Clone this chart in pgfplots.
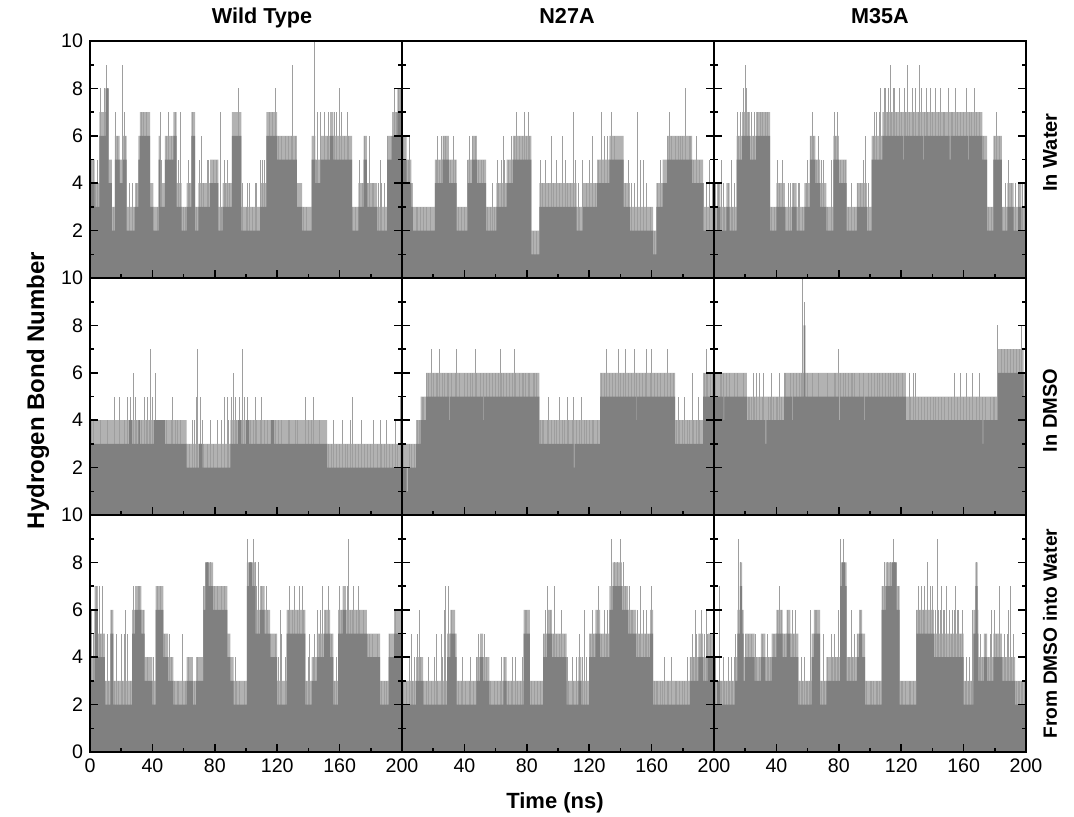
\documentclass[border=0pt]{standalone}
\usepackage{pgfplots}
\pgfplotsset{compat=1.18}
\usepgfplotslibrary{groupplots}
\usetikzlibrary{calc}
\usepackage{fontspec}
\setmainfont{Liberation Sans}
\definecolor{barfill}{RGB}{128,128,128}
\definecolor{hatchcol}{RGB}{178,178,178}
\definecolor{spikecol}{RGB}{158,158,158}
\pgfplotsset{
  panel/.style={width=156pt,height=118.5pt,scale only axis,
    xmin=0,xmax=200,ymin=0,ymax=10,
    xtick={0,40,...,200}, ytick={0,2,...,10},
    minor x tick num=1, minor y tick num=1,
    tick align=inside, xtick pos=left, ytick pos=both,
    major tick length=4pt, minor tick length=2pt,
    axis line style={line width=0.8pt},
    every tick/.style={black,line width=0.8pt},
    xticklabels={}, yticklabels={},
    axis on top,
    /pgf/number format/assume math mode=true,
    ticklabel style={font=\fontsize{9.8}{11}\selectfont},
    title style={font=\fontsize{10.8}{12}\selectfont\bfseries, at={(0.5,1)}, anchor=base, yshift=3pt},
  },
  env/.style={const plot, fill=barfill, draw=none},
  hat/.style={const plot, fill=hatchcol, draw=none},
  spk/.style={ycomb, draw=spikecol, line width=0.5pt, mark=none},
}
\begin{document}
\begin{tikzpicture}
\begin{groupplot}[group style={group size=3 by 3, horizontal sep=0pt, vertical sep=0pt}, panel]
% ---------- Row 1: In Water ----------
\nextgroupplot[title={Wild Type}, title style={xshift=8pt}, yticklabels={,2,4,6,8,10}]
\addplot[hat] coordinates {(0,5)(3,4)(6,7)(10,8)(12,5)(14,3)(16,6)(19,5)(21,6)(23.5,3)(29,4)(31,6)(32,7)(38.5,4)(40.6,3)(44,6)(45,4)(48,6)(53.5,7)(55.6,4)(58.8,3)(62,4)(65,7)(67.4,3)(69.5,4)(77,5)(82.3,3)(85,4)(91,7)(97,3)(109,4)(113,7)(120,6)(132.6,4)(136,3)(142,6)(144.4,5)(147.6,6)(154,7)(156,6)(168,3)(172,4)(175.4,6)(177.5,4)(184,3)(190.4,6)(193.6,7)(197,8)(200,8)} \closedcycle;
\addplot[spk] coordinates {(1,5)(2,5)(3.5,4)(5,5)(6.5,8)(7.5,6)(9,8)(10.5,9)(11,8)(13,4)(15,3)(16.5,7)(17.5,6)(19,5)(20,4)(21,9)(22,7)(22.8,6)(25.5,4)(27,4)(28.5,3)(30,4)(31.5,5)(33,7)(34.5,7)(36.5,7)(39,3)(43,3)(45,7)(46,5)(49,6)(50,7)(52,6)(53,5)(55,7)(57,5)(58,7)(60,3)(61,3)(63,5)(64,4)(66,7)(68,3)(70,5)(71.5,6)(73,4)(75,5)(76,5)(79,5)(81,5)(83.5,7)(84,3)(86,5)(87,4)(88,5)(89.5,4)(93,6)(95,7)(95.5,8)(98,4)(100,3)(101,4)(102.5,4)(104,3)(106,4)(107,4)(109,5)(110.5,5)(112,5)(115,7)(117,7)(119,8)(121,6)(123,6)(125,6)(127,6)(129,6)(130,9)(131.5,6)(133,3)(135,3)(137,3)(139,3)(143.8,10)(145,5)(146,7)(148,7)(150,7)(152,6)(153,7)(155,6)(157,7)(158,7)(160,8)(161,7)(163,6)(165,7)(166,6)(168,3)(170,3)(173,5)(174.5,4)(176,6)(178,4)(179,6)(181,4)(182,4)(185,4)(186,5)(187,4)(189,4)(191,6)(193,6)(195,8)(196.5,7)(198,8)(199,8)};
\addplot[env] coordinates {(0,4)(3,3)(6,6)(10,8)(12,4)(14,2)(16,5)(19,4)(21,5)(23.5,2)(29,3)(31,5)(32,6)(38.5,3)(40.6,2)(44,5)(45,3)(48,5)(53.5,6)(55.6,3)(58.8,2)(62,3)(65,6)(67.4,2)(69.5,3)(77,4)(82.3,2)(85,3)(91,6)(97,2)(109,3)(113,6)(120,5)(132.6,3)(136,2)(142,5)(144.4,4)(147.6,5)(154,6)(156,5)(168,2)(172,3)(175.4,5)(177.5,3)(184,2)(190.4,5)(193.6,6)(197,7)(200,7)} \closedcycle;
\nextgroupplot[title={N27A}, title style={xshift=4.5pt}]
\addplot[hat] coordinates {(0,6)(3,5)(6,4)(7,3)(21,5)(26,6)(30,5)(35,3)(42,5)(45,6)(48,5)(54,3)(60.5,4)(67,5)(71,6)(83,2)(88,4)(112,3)(116,4)(125,5)(133,6)(142,4)(146,3)(161,2)(163,4)(167,5)(170,6)(186,5)(193,3)(200,3)} \closedcycle;
\addplot[spk] coordinates {(1,6)(2,5)(4,5)(5,6)(7,3)(9,3)(10,3)(12,3)(14,3)(16,3)(18,3)(22,5)(23,6)(24,5)(25,6)(26.5,6)(28,6)(29,5)(31,5)(33,6)(34,5)(36,3)(38,3)(40,3)(42,5)(43,6)(45,6)(46,5)(47,6)(49,5)(51,5)(52,5)(55,3)(57,3)(58,4)(59,3)(61,5)(62,4)(64,5)(65,6)(66,5)(68,5)(70,6)(72,6)(73.5,7)(75,6)(77,6)(78.5,7)(80,6)(81,7)(82,6)(84,2)(86,2)(89,5)(90,4)(92,5)(94,4)(96,6)(97,4)(99,5)(101,4)(103,6)(105,5)(106,4)(108,4)(110,7)(111,5)(113,4)(114,3)(116,5)(118,4)(120,5)(122,6)(124,4)(126,5)(128,7)(130,6)(132,6)(134,7)(136,6)(138,5)(140,4)(143,4)(145,5)(147,4)(149,4)(151,7)(153,5)(155,5)(157,4)(159,3)(162,2)(164,4)(166,5)(168,4)(170,6)(171.5,7)(173,6)(175,6)(177,6)(178.5,6)(180,6)(182,8)(184,6)(185,6)(187,5)(189,6)(191,5)(193,4)(195,4)(197,5)(199,4)};
\addplot[env] coordinates {(0,5)(3,4)(6,3)(7,2)(21,4)(26,5)(30,4)(35,2)(42,4)(45,5)(48,4)(54,2)(60.5,3)(67,4)(71,5)(83,1)(88,3)(112,2)(116,3)(125,4)(133,5)(142,3)(146,2)(161,1)(163,3)(167,4)(170,5)(186,4)(193,2)(200,2)} \closedcycle;
\nextgroupplot[title={M35A}, title style={xshift=5pt}]
\addplot[hat] coordinates {(0,3)(2,4)(4,3)(8,4)(10,3)(14.5,6)(18,7)(23,6)(27,7)(36,3)(40,4)(45.5,3)(50,4)(53,3)(58,4)(61.5,6)(65,5)(68,4)(72,3)(76.5,6)(80,5)(85,3)(91.5,4)(98,3)(101,6)(108,7)(172,6)(175,3)(179,6)(184.5,3)(188,4)(192,3)(195,4)(197,3)(200,3)} \closedcycle;
\addplot[spk] coordinates {(1,4)(3,4)(5,5)(6,4)(7,3)(9,4)(11,5)(12,3)(13,4)(15,7)(16,6)(17,7)(19,8)(20,9)(21,8)(22,7)(24,7)(25,6)(26,7)(28,7)(30,7)(31,7)(33,7)(34,7)(35,6)(37,3)(39,3)(41,5)(42,4)(44,5)(46,3)(48,4)(49,4)(51,4)(52,3)(54,4)(55,4)(57,3)(59,4)(60,5)(62,6)(63,7)(64,6)(66,5)(67,6)(69,5)(70,5)(73,3)(75,5)(77,7)(78,6)(79,7)(81,5)(83,5)(84,5)(86,3)(88,4)(90,3)(92,4)(94,4)(96,5)(97,6)(99,4)(102,6)(103,7)(104,7)(106,7)(107,8)(109,8)(110,8)(111,7)(112,8)(113,9)(114,7)(115,8)(116,8)(117,7)(119,8)(120,7)(122,8)(123,7)(124,9)(125,7)(127,8)(128,7)(129,8)(131,7)(132,9)(133,8)(135,7)(136,8)(137,7)(139,8)(140,7)(142,8)(144,7)(145,8)(147,7)(148,7)(150,8)(152,7)(153,7)(155,8)(156,7)(158,7)(160,7)(162,8)(164,7)(165,7)(167,8)(168,7)(170,7)(173,6)(176,3)(178,3)(180,6)(181,7)(182,5)(183,6)(185,3)(187,4)(189,5)(191,4)(193,4)(195,4)(196,3)(198,4)(199,4)};
\addplot[env] coordinates {(0,2)(2,3)(4,2)(8,3)(10,2)(14.5,5)(18,6)(23,5)(27,6)(36,2)(40,3)(45.5,2)(50,3)(53,2)(58,3)(61.5,5)(65,4)(68,3)(72,2)(76.5,5)(80,4)(85,2)(91.5,3)(98,2)(101,5)(108,6)(121,5)(121.6,6)(134,5)(134.6,6)(151,5)(151.6,6)(163,5)(163.6,6)(172,5)(175,2)(179,5)(184.5,2)(188,3)(192,2)(195,3)(197,2)(200,2)} \closedcycle;
% ---------- Row 2: In DMSO ----------
\nextgroupplot[yticklabels={,2,4,6,8,10}]
\addplot[hat] coordinates {(0,4)(62,3)(90,4)(152,3)(200,3)} \closedcycle;
\addplot[spk] coordinates {(1,4)(2.5,4)(4,3)(6.5,4)(7.5,3)(10,3)(11,4)(14,3)(16,5)(18,3)(19,5)(20,3)(22,4)(24,5)(26,5)(28,6)(29,5)(30,4)(33,4)(35,5)(36,4)(37,5)(38,4)(39,7)(40,5)(42,6)(44,4)(46,4)(49,4)(50,3)(52,4)(53,5)(55,4)(56,4)(58,4)(59,3)(61,3)(64,3)(66,4)(67,4)(68,5)(69,7)(71,5)(72,4)(73,3)(75,3)(77,4)(79,3)(82,4)(84,4)(86,5)(88,5)(89,4)(91,5)(92,6)(93,5)(94,4)(96,5)(98,7)(99,5)(101,5)(103,4)(105,4)(106,5)(107,4)(109,4)(110,5)(112,4)(114,4)(119,4)(121,4)(123,4)(125,3)(127,4)(128,4)(130,3)(132,4)(133,4)(135,3)(138,5)(140,4)(142,4)(143,5)(145,3)(147,4)(150,3)(153,3)(155,3)(156,4)(158,3)(160,3)(162,4)(164,3)(165,3)(167,4)(168,5)(170,3)(172,3)(174,4)(176,3)(178,3)(180,3)(182,4)(184,3)(186,4)(187,3)(189,3)(190,4)(192,3)(194,3)(196,4)(197,3)(199,5)};
\addplot[env] coordinates {(0,3)(25,4)(27,3)(31,4)(32,3)(41,4)(48,3)(62,2)(70,3)(72,2)(90,3)(95,4)(97,3)(100,4)(102,3)(116,4)(118,3)(152,2)(200,2)} \closedcycle;
\nextgroupplot
\addplot[hat] coordinates {(0,3)(9,4)(12,5)(15.5,6)(88,4)(127,6)(175,4)(193,6)(200,6)} \closedcycle;
\addplot[spk] coordinates {(1,3)(2,2)(5,3)(6,3)(8,3)(10,4)(11,4)(13,5)(14,5)(16,6)(17,6)(19,7)(20,6)(22,6)(23,6)(24,7)(26,6)(27,6)(29,6)(30,6)(32,6)(34,6)(35,7)(37,6)(40,6)(42,6)(44,6)(45,6)(47,7)(48,6)(50,6)(52,6)(54,6)(56,6)(58,6)(60,6)(62,6)(63,7)(64,6)(65,6)(67,6)(69,6)(71,6)(72,7)(73,6)(75,6)(77,6)(78,6)(79,6)(81,6)(82,6)(84,6)(85,6)(86,6)(89,4)(90,4)(91,4)(93,4)(94,5)(96,4)(98,4)(99,4)(101,5)(103,4)(104,4)(106,5)(107,4)(109,4)(110,5)(112,4)(114,4)(115,5)(117,4)(118,4)(120,4)(122,4)(123,4)(125,4)(128,6)(130,6)(131,7)(133,6)(135,6)(137,6)(139,7)(140,6)(142,6)(143,7)(145,6)(147,6)(149,7)(150,6)(152,6)(154,6)(156,6)(157,7)(159,6)(160,7)(162,6)(164,6)(166,6)(168,6)(170,7)(172,6)(174,6)(176,4)(177,5)(178,4)(180,4)(181,5)(183,4)(184,4)(186,6)(187,4)(189,4)(190,5)(191,4)(194,6)(195,7)(196,6)(198,6)(199,6)};
\addplot[env] coordinates {(0,2)(3,1)(4,2)(9,3)(12,4)(15.5,5)(30,4)(30.6,5)(52,4)(52.6,5)(88,3)(110,2)(110.6,3)(127,5)(150,4)(150.6,5)(175,3)(193,5)(200,5)} \closedcycle;
\nextgroupplot
\addplot[hat] coordinates {(0,6)(21,5)(45,6)(123,5)(182,7)(198.5,6)(200,6)} \closedcycle;
\addplot[spk] coordinates {(1,6)(2,5)(4,6)(5,6)(6,6)(7,5)(8,6)(9,5)(10,6)(11,5)(13,6)(15,6)(16,5)(17,5)(18,5)(19,6)(21,5)(22,5)(23,5)(24,5)(25,6)(26,5)(27,6)(29,6)(31,5)(32,6)(35,5)(36,5)(37,6)(38,5)(40,5)(41,5)(42,6)(43,5)(45,6)(46,6)(47,5)(49,6)(51,6)(53,6)(54,5)(55,6)(56,6)(57,10)(58,9)(59,5)(60,6)(61,5)(63,6)(65,5)(66,5)(67,6)(68,5)(70,5)(71,5)(73,6)(74,5)(75,5)(77,6)(78,6)(80,7)(81,6)(83,6)(84,6)(86,6)(88,6)(89,6)(90,6)(92,5)(93,6)(95,5)(96,6)(98,5)(99,6)(101,6)(103,6)(105,6)(106,6)(108,6)(110,6)(112,6)(113,6)(115,6)(117,6)(118,6)(120,5)(121,6)(123,5)(125,6)(126,5)(128,6)(129,6)(131,5)(133,5)(135,5)(137,5)(139,5)(141,5)(142,5)(144,5)(146,5)(148,5)(150,5)(152,5)(154,6)(156,5)(158,6)(160,5)(162,6)(164,5)(166,6)(168,5)(170,6)(172,5)(174,5)(177,5)(179,5)(180,5)(182,8)(184,7)(186,7)(188,7)(190,7)(192,7)(194,7)(196,7)(197,8)(199,5)};
\addplot[env] coordinates {(0,5)(6,4)(6.6,5)(21,4)(33,3)(33.6,4)(45,5)(50,4)(50.6,5)(57.5,8)(58.5,5)(80,4)(80.6,5)(96,4)(96.6,5)(123,4)(172,3)(172.6,4)(182,6)(198.5,5)(200,5)} \closedcycle;
% ---------- Row 3: From DMSO into Water ----------
\nextgroupplot[yticklabels={0,2,4,6,8,10}, xticklabels={0,40,80,120,160,200}]
\addplot[hat] coordinates {(0,4)(3,7)(5,5)(9.6,3)(13,6)(15,3)(27,6)(29,7)(33,6)(35,4)(40,3)(42,7)(47,5)(50,4)(53.5,3)(62,4)(66,3)(68,4)(72.7,7)(74,8)(79,7)(88,5)(90,4)(92,3)(100.5,8)(106,6)(109,7)(112,6)(115.5,5)(120,3)(126,6)(138,3)(142,4)(145.5,5)(150,6)(154,5)(156,3)(159,6)(162,7)(164,6)(177.5,5)(186,3)(191.5,5)(195,6)(200,6)} \closedcycle;
\addplot[spk] coordinates {(1,6)(2,5)(4,7)(6,7)(7,5)(8,7)(10,3)(11,5)(12,3)(14,6)(16,3)(17,5)(18,3)(20,5)(21,3)(22,5)(23,6)(24,5)(26,3)(28,7)(30,6)(31,7)(32,7)(34,6)(36,3)(37,4)(39,3)(41,4)(43,7)(44,6)(45,7)(46,6)(48,5)(49,4)(51,5)(52,4)(54,3)(56,3)(57,3)(59,5)(61,3)(63,4)(65,3)(67,3)(69,4)(70,3)(72,3)(73,7)(75,8)(77,8)(78,7)(80,7)(81,6)(82,7)(84,7)(85,6)(86,7)(87,5)(89,4)(91,3)(93,4)(94,3)(96,3)(97,2)(99,3)(101,9)(103,8)(105,9)(106,8)(107,7)(108,8)(110,7)(111,6)(113,7)(114,6)(116,5)(117,4)(119,5)(121,4)(122,6)(123,5)(125,4)(127,6)(128,7)(130,6)(131,7)(133,6)(134,7)(136,7)(137,6)(139,3)(140,4)(141,5)(143,4)(144,5)(146,6)(147,5)(148,6)(149,7)(151,6)(152,5)(153,7)(155,5)(157,3)(158,4)(160,7)(161,6)(163,6)(165,7)(165.8,9)(167,6)(168,6)(169,7)(171,6)(172,7)(173,6)(175,6)(176,5)(178,5)(179,5)(181,5)(182,4)(184,5)(185,4)(187,3)(189,3)(190,3)(192,5)(193,4)(196,6)(197,5)(199,5)};
\addplot[env] coordinates {(0,3)(3,6)(5,4)(9.6,2)(13,5)(15,2)(27,5)(29,6)(33,5)(35,3)(40,2)(42,6)(47,4)(50,3)(53.5,2)(62,3)(66,2)(68,3)(72.7,6)(74,8)(76,7)(79,6)(88,4)(90,3)(92,2)(100.5,7)(102,8)(104,7)(106,5)(109,6)(112,5)(115.5,4)(120,2)(126,5)(138,2)(142,3)(145.5,4)(150,5)(154,4)(156,2)(159,5)(162,6)(164,5)(177.5,4)(186,2)(191.5,4)(195,5)(200,5)} \closedcycle;
\nextgroupplot[xticklabels={,40,80,120,160,200}]
\addplot[hat] coordinates {(0,3)(9,4)(13.5,3)(29,5)(31,6)(34,5)(35,3)(47.7,4)(50,5)(52,4)(56,3)(65,4)(67,3)(78,6)(82,3)(90.5,5)(93,6)(96,5)(105.5,3)(113,4)(115,3)(120,5)(124,6)(127,5)(133,7)(135,8)(141,7)(145,6)(150,5)(159,6)(161,3)(184.5,4)(190,5)(193,4)(196,5)(200,5)} \closedcycle;
\addplot[spk] coordinates {(1,3)(3,3)(5,4)(6,5)(7,3)(8,4)(10,5)(11,6)(12,4)(14,3)(16,3)(17,4)(19,3)(21,4)(22,5)(23,3)(25,5)(26,4)(27,6)(28,7)(29.5,6)(30,7)(32,6)(33,5)(36,3)(38,3)(39,4)(41,3)(43,3)(44,4)(46,3)(48,4)(49,5)(51,4)(53,5)(54,4)(55,3)(57,3)(59,3)(61,3)(63,3)(64,4)(66,4)(68,3)(70,3)(71,4)(73,4)(74,3)(76,3)(77,4)(79,6)(80,6)(81,5)(83,3)(85,3)(87,3)(89,3)(91,5)(92,6)(93.5,7)(95,6)(97,5)(98,7)(99,5)(101,5)(102,6)(104,5)(106,4)(107,3)(109,4)(110,3)(112,4)(114,5)(116,4)(117,6)(118,4)(121,5)(122,6)(123,5)(125,6)(126,7)(128,5)(130,6)(131,5)(132,6)(134,9)(136,8)(137,7)(138,8)(139,7)(140,9)(142,8)(143,7)(144,6)(146,7)(147,6)(148,6)(149,5)(151,6)(152,5)(153,7)(155,6)(156,5)(157,6)(158,5)(160,7)(162,3)(163,3)(164,3)(166,3)(167,3)(168,4)(170,3)(171,3)(173,4)(175,3)(176,3)(178,3)(180,3)(181,3)(183,4)(185,4)(186,5)(187,4)(188,6)(189,5)(191,4)(192,6)(194,5)(195,6)(196,5)(198,5)(199,4)};
\addplot[env] coordinates {(0,2)(9,3)(13.5,2)(29,4)(31,5)(34,4)(35,2)(47.7,3)(50,4)(52,3)(56,2)(65,3)(67,2)(78,5)(82,2)(90.5,4)(93,5)(96,4)(105.5,2)(113,3)(115,2)(120,4)(124,5)(127,4)(133,6)(135,7)(141,6)(145,5)(150,4)(159,5)(161,2)(184.5,3)(190,4)(193,3)(196,4)(200,4)} \closedcycle;
\nextgroupplot[xticklabels={,40,80,120,160,200}]
\addplot[hat] coordinates {(0,3)(13.5,4)(15,6)(16.5,8)(18,6)(19,4)(20,5)(26,4)(30,5)(33,4)(37,5)(40,6)(44,5)(46.6,6)(49,5)(54,3)(62.6,5)(64,6)(68,3)(72,4)(80.8,8)(84,8)(85,4)(91.5,5)(93,6)(95,5)(96.8,3)(107.5,7)(110,8)(117,7)(119,3)(129.7,6)(141,5)(160,3)(166.3,6)(167.5,8)(169,6)(169.5,4)(173,5)(175,4)(179,5)(184.5,4)(193,3)(200,3)} \closedcycle;
\addplot[spk] coordinates {(1,4)(2.5,3)(3.5,7)(5,3)(6,4)(7,3)(8,3)(9,4)(10,3)(11,4)(12,3)(13,4)(14,5)(15.5,8)(16,9)(17,8)(18.5,6)(20,5)(21,4)(22,5)(23,4)(24,5)(25,4)(26.5,5)(27.5,4)(29,4)(31,5)(32,4)(34,5)(35,4)(36,4)(38,5)(39,5)(41,6)(42,7)(43,6)(45,5)(47,6)(48,5)(50,6)(51,5)(52,6)(53,4)(55,3)(56,4)(57,3)(58,4)(59,3)(60,3)(61,3)(62,6)(65,6)(66,6)(67,5)(69,3)(70,5)(71,3)(73,4)(75,5)(76,4)(77,5)(78,4)(79,4)(80,6)(81,9)(83,9)(84.5,7)(86,4)(87,4)(88,6)(89,4)(90,5)(92,5)(94,6)(96,4)(98,3)(100,3)(101,3)(102,3)(104,3)(105,3)(106,3)(108,7)(109,8)(111,8)(112,7)(113,8)(115,9)(116,8)(118,7)(120,3)(121,3)(123,3)(125,3)(126,3)(128,3)(130,6)(131,7)(132,6)(133,7)(134,6)(135,7)(137,8)(139,7)(140,7)(142,6)(143,9)(144,6)(145,6)(146,7)(147,6)(148,6)(149,7)(151,6)(152,5)(153,6)(154,6)(155,7)(156,6)(157,6)(158,5)(159,6)(161,3)(162,4)(163,3)(164,4)(165,3)(166,6)(168,8)(170,4)(171,5)(172,4)(174,5)(176,4)(177,5)(178,6)(180,6)(181,5)(183,7)(185,4)(186,5)(187,4)(188,5)(189,6)(190,7)(191,4)(192,5)(194,3)(195,3)(196,3)(197,3)(198,3)(199,3)};
\addplot[env] coordinates {(0,2)(2,3)(4,2)(13.5,3)(15,5)(16.5,7)(18,5)(19,3)(20,4)(26,3)(30,4)(33,3)(37,4)(40,5)(44,4)(46.6,5)(49,4)(54,2)(62.6,4)(64,5)(68,2)(72,3)(80.8,7)(82,8)(84,7)(85,3)(91.5,4)(93,5)(95,4)(96.8,2)(107.5,6)(110,7)(114,8)(117,6)(119,2)(129.7,5)(141,4)(160,2)(166.3,5)(167.5,7)(169,5)(169.5,3)(173,4)(175,3)(179,4)(184.5,3)(193,2)(200,2)} \closedcycle;
\end{groupplot}
\node[rotate=90, font=\fontsize{12}{14}\selectfont\bfseries] at ($(group c1r2.west)+(-26pt,3pt)$) {Hydrogen Bond Number};
\node[font=\fontsize{11}{13}\selectfont\bfseries] at ($(group c2r3.south)+(-1.5pt,-25.5pt)$) {Time (ns)};
\node[rotate=90, font=\fontsize{10}{12}\selectfont\bfseries] at ($(group c3r1.east)+(12pt,3.5pt)$) {In Water};
\node[rotate=90, font=\fontsize{10}{12}\selectfont\bfseries] at ($(group c3r2.east)+(12pt,-7pt)$) {In DMSO};
\node[rotate=90, font=\fontsize{9.6}{12}\selectfont\bfseries] at ($(group c3r3.east)+(12pt,0)$) {From DMSO into Water};
\pgfresetboundingbox
\path ($(group c1r1.north west)+(-45pt,20.5pt)$) rectangle ($(group c1r1.north west)+(492pt,-387.5pt)$);
\end{tikzpicture}
\end{document}
